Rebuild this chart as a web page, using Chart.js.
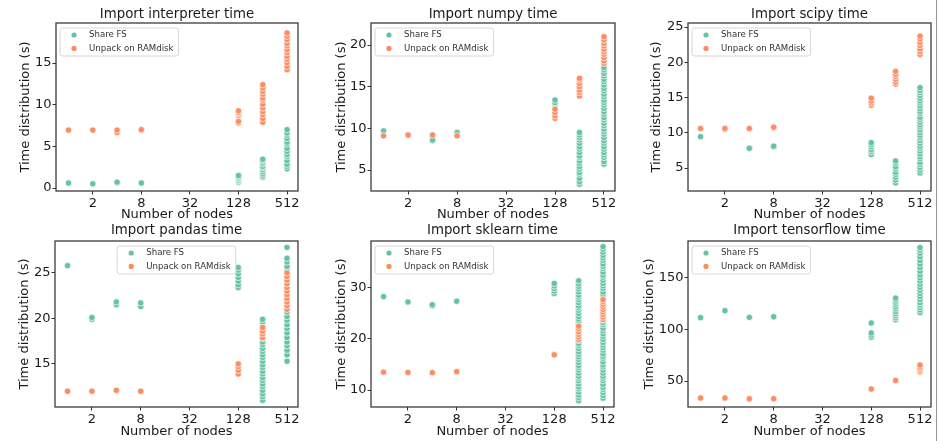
<!DOCTYPE html>
<html>
<head>
<meta charset="utf-8">
<title>Import time distribution</title>
<style>
  body { margin: 0; background: #fff; }
  #page { position: relative; width: 940px; height: 441px; overflow: hidden; background: #fff; }
  .panel { position: absolute; }
  .panel canvas { display: block; }
  #edge { position: absolute; left: 936px; top: 0; width: 1px; height: 441px; background: #9a9a9a; }
</style>
</head>
<body>
<div id="page">
  <div class="panel" style="left:0px;top:0px"><canvas id="c0" width="310" height="224"></canvas></div>
  <div class="panel" style="left:310px;top:0px"><canvas id="c1" width="310" height="224"></canvas></div>
  <div class="panel" style="left:620px;top:0px"><canvas id="c2" width="320" height="224"></canvas></div>
  <div class="panel" style="left:0px;top:220px"><canvas id="c3" width="310" height="221"></canvas></div>
  <div class="panel" style="left:310px;top:220px"><canvas id="c4" width="310" height="221"></canvas></div>
  <div class="panel" style="left:620px;top:220px"><canvas id="c5" width="320" height="221"></canvas></div>
  <div id="edge"></div>
</div>
<script src="https://cdn.jsdelivr.net/npm/chart.js@4.4.1/dist/chart.umd.min.js"></script>
<script>
// node counts on the x axis (log2), one list of timings per node count
var nodes = [1, 2, 4, 8, 128, 256, 512];
var xTicks = [2, 8, 32, 128, 512];
var seriesNames = ['Share FS', 'Unpack on RAMdisk'];

var interpreterShare = [[0.6], [0.5], [0.65, 0.7], [0.6],
  [0.7, 0.85, 0.95, 1.1, 1.2, 1.35, 1.5],
  [1.3, 1.45, 1.7, 1.95, 2.2, 2.45, 2.6, 2.9, 3.1, 3.3, 3.45],
  [2.3, 2.6, 2.85, 3.3, 3.75, 4.0, 4.4, 4.75, 5.25, 5.5, 5.95, 6.35, 6.6, 7.0]];
var interpreterRam = [[6.95], [6.95], [6.65, 6.95], [6.95, 7.0],
  [7.8, 8.0, 8.7, 8.9, 9.05, 9.25],
  [7.9, 8.35, 8.8, 9.15, 9.6, 10.05, 10.55, 10.8, 11.25, 11.6, 12.0, 12.4],
  [14.2, 14.6, 15.05, 15.45, 15.8, 16.25, 16.6, 17.05, 17.35, 17.8, 18.2, 18.6]];
var interpreterTicks = [0, 5, 10, 15];

var numpyShare = [[9.7], [9.2], [8.5, 8.6], [9.5],
  [12.6, 12.9, 13.1, 13.4],
  [3.3, 3.6, 4.0, 4.5, 4.7, 5.1, 5.4, 5.8, 6.1, 6.5, 6.7, 7.1, 7.5, 7.8, 8.2, 8.6, 8.9, 9.2, 9.5],
  [5.7, 6.0, 6.5, 6.8, 7.1, 7.5, 7.8, 8.2, 8.5, 8.9, 9.3, 9.6, 9.9, 10.3, 10.6, 11.0, 11.3,
   11.7, 12.0, 12.4, 12.8, 13.1, 13.4, 13.8, 14.1, 14.5, 14.8, 15.2, 15.6, 15.9, 16.3, 16.6, 17.0, 17.3]];
var numpyRam = [[9.1], [9.2], [9.2], [9.1],
  [11.2, 11.5, 11.9, 12.3],
  [13.9, 14.3, 14.6, 15.0, 15.4, 15.8, 16.0],
  [17.8, 18.1, 18.5, 18.9, 19.2, 19.5, 19.9, 20.2, 20.6, 21.0]];
var numpyTicks = [5, 10, 15, 20];

var scipyShare = [[9.45], [10.5], [7.8], [8.0, 8.1],
  [6.9, 7.3, 7.6, 8.0, 8.3, 8.6],
  [2.9, 3.3, 3.7, 4.1, 4.4, 4.9, 5.2, 5.7, 6.0],
  [4.3, 4.7, 5.1, 5.5, 5.8, 6.3, 6.6, 7.0, 7.4, 7.8, 8.1, 8.5, 8.9, 9.3, 9.6, 10.0, 10.4,
   10.8, 11.1, 11.5, 11.9, 12.2, 12.7, 13.0, 13.4, 13.8, 14.2, 14.5, 14.9, 15.3, 15.7, 16.0, 16.4]];
var scipyRam = [[10.6], [10.6], [10.6], [10.7, 10.8],
  [13.9, 14.2, 14.5, 14.9],
  [16.9, 17.2, 17.6, 18.0, 18.3, 18.7],
  [21.1, 21.5, 21.9, 22.4, 22.8, 23.3, 23.7]];
var scipyTicks = [5, 10, 15, 20, 25];

var pandasShare = [[25.8], [19.9, 20.1], [21.5, 21.8], [21.3, 21.7],
  [23.4, 23.7, 24.1, 24.5, 24.9, 25.3, 25.6],
  [11.0, 11.4, 11.7, 12.1, 12.5, 12.8, 13.2, 13.5, 13.9, 14.2, 14.6, 14.9, 15.3, 15.7, 16.0,
   16.4, 16.7, 17.1, 17.4, 17.8, 18.1, 18.5, 18.8, 19.2, 19.6, 19.9],
  [15.3, 16.0, 16.5, 17.0, 17.4, 17.9, 18.4, 18.9, 19.3, 19.8, 20.2, 20.7, 21.1, 21.6, 22.0,
   22.5, 23.0, 23.4, 23.9, 24.3, 24.8, 25.3, 25.7, 26.2, 26.6, 27.8]];
var pandasRam = [[12.0], [12.0], [12.1], [12.0],
  [13.9, 14.3, 14.7, 15.0],
  [17.9, 18.3, 18.6, 19.0],
  [21.0, 21.4, 21.8, 22.2, 22.6, 23.0, 23.4, 23.8, 24.2, 24.6, 25.0]];
var pandasTicks = [15, 20, 25];

var sklearnShare = [[28.3], [27.25], [26.5, 26.7], [27.4],
  [28.9, 29.4, 29.9, 30.4, 30.9],
  [7.9, 8.5, 9.0, 9.6, 10.2, 10.6, 11.2, 11.8, 12.3, 12.7, 13.3, 13.9, 14.4, 14.8, 15.4, 16.0,
   16.5, 17.0, 17.5, 18.1, 18.7, 19.1, 19.7, 20.2, 20.8, 21.4, 21.8, 22.3, 22.9, 23.5, 23.9,
   24.4, 25.0, 25.6, 26.1, 26.5, 27.1, 27.7, 28.2, 28.6, 29.2, 29.8, 30.3, 30.8, 31.4],
  [8.4, 8.9, 9.5, 10.1, 10.5, 11.1, 11.8, 12.3, 12.7, 13.3, 13.9, 14.5, 14.9, 15.5, 16.2, 16.6,
   17.1, 17.8, 18.3, 18.8, 19.3, 19.9, 20.5, 21.0, 21.6, 22.1, 22.8, 23.2, 23.7, 24.4, 24.9,
   25.4, 26.0, 26.6, 27.0, 27.6, 28.3, 28.7, 29.2, 29.9, 30.4, 30.9, 31.5, 32.1, 32.5, 33.1,
   33.8, 34.2, 34.7, 35.4, 35.9, 36.4, 37.0, 37.6, 38.1]];
var sklearnRam = [[13.5], [13.45], [13.4], [13.6],
  [16.9],
  [19.9, 20.4, 20.9, 21.4, 22.0, 22.5],
  [23.8, 24.3, 24.8, 25.3, 25.8, 26.3, 26.8, 27.3, 27.7]];
var sklearnTicks = [10, 20, 30];

var tensorflowShare = [[111.5], [118.3], [111.8], [112.4],
  [92.4, 94.5, 96.6, 106.3],
  [109.5, 111.5, 113.5, 115.5, 117.5, 120, 122, 124.5, 126.5, 128.5, 130.5],
  [116.5, 119, 121.5, 124, 126, 129, 132, 135, 138, 141, 144, 147, 150, 153, 156.5, 160,
   163.5, 167, 170.5, 174, 177, 179.5]];
var tensorflowRam = [[33.5], [33.5], [32.8], [32.8],
  [42.2],
  [50.6],
  [58.8, 60.2, 61.8, 63.5, 65.5]];
var tensorflowTicks = [50, 100, 150];

var titles = ['Import interpreter time', 'Import numpy time', 'Import scipy time',
  'Import pandas time', 'Import sklearn time', 'Import tensorflow time'];

var TEAL = '#66c2a5';
var ORANGE = '#fc8d62';
var INK = '#1a1a1a';
var FONT = '"DejaVu Sans", "Liberation Sans", sans-serif';

// canvas-local layout of each panel: plot box [l, t, r, b], axis limits, label spots
var panels = [
  { share: interpreterShare, ram: interpreterRam, yTicks: interpreterTicks, yMin: -0.36, yMax: 19.8,
    area: [56, 23, 298, 191], titleY: 14.5, yTitleX: 26, xTitleY: 215, legend: 'left' },
  { share: numpyShare, ram: numpyRam, yTicks: numpyTicks, yMin: 2.48, yMax: 22.65,
    area: [61, 23, 305, 191], titleY: 14.5, yTitleX: 32, xTitleY: 215, legend: 'left' },
  { share: scipyShare, ram: scipyRam, yTicks: scipyTicks, yMin: 1.74, yMax: 25.57,
    area: [68, 23, 311, 191], titleY: 14.5, yTitleX: 37, xTitleY: 215, legend: 'left' },
  { share: pandasShare, ram: pandasRam, yTicks: pandasTicks, yMin: 10.27, yMax: 28.5,
    area: [55, 21, 298, 187], titleY: 10.5, yTitleX: 25, xTitleY: 212, legend: 'center' },
  { share: sklearnShare, ram: sklearnRam, yTicks: sklearnTicks, yMin: 6.67, yMax: 39.2,
    area: [61, 21, 304, 187], titleY: 10.5, yTitleX: 32, xTitleY: 212, legend: 'left' },
  { share: tensorflowShare, ram: tensorflowRam, yTicks: tensorflowTicks, yMin: 24.8, yMax: 185.9,
    area: [68, 21, 311, 187], titleY: 10.5, yTitleX: 30, xTitleY: 212, legend: 'left' }
];

function toPoints(cols) {
  var pts = [];
  cols.forEach(function (vals, i) {
    vals.forEach(function (v) { pts.push({ x: nodes[i], y: v }); });
  });
  return pts;
}

// frame, panel title and legend box drawn over the points
var panelDecor = {
  id: 'panelDecor',
  afterDatasetsDraw: function (chart, args, opts) {
    var ctx = chart.ctx, a = chart.chartArea;
    ctx.save();
    ctx.strokeStyle = '#333';
    ctx.lineWidth = 1.25;
    ctx.strokeRect(a.left, a.top, a.right - a.left, a.bottom - a.top);

    ctx.fillStyle = INK;
    ctx.font = '13.3px ' + FONT;
    ctx.textAlign = 'center';
    ctx.textBaseline = 'middle';
    ctx.fillText(opts.title, (a.left + a.right) / 2, opts.titleY);

    ctx.font = '8.6px ' + FONT;
    var sets = chart.data.datasets;
    var tw = 0;
    sets.forEach(function (d) { tw = Math.max(tw, ctx.measureText(d.label).width); });
    var w = 30 + tw + 4, h = 28;
    var x = opts.legend === 'center' ? (a.left + a.right - w) / 2 : a.left + 4;
    var y = a.top + 5;
    var r = 2.5;
    ctx.beginPath();
    ctx.moveTo(x + r, y);
    ctx.lineTo(x + w - r, y);
    ctx.arcTo(x + w, y, x + w, y + r, r);
    ctx.lineTo(x + w, y + h - r);
    ctx.arcTo(x + w, y + h, x + w - r, y + h, r);
    ctx.lineTo(x + r, y + h);
    ctx.arcTo(x, y + h, x, y + h - r, r);
    ctx.lineTo(x, y + r);
    ctx.arcTo(x, y, x + r, y, r);
    ctx.closePath();
    ctx.fillStyle = 'rgba(255,255,255,0.8)';
    ctx.fill();
    ctx.strokeStyle = '#d6d6d6';
    ctx.lineWidth = 1;
    ctx.stroke();

    ctx.textAlign = 'left';
    sets.forEach(function (d, i) {
      var cy = y + 7 + i * 13.4;
      ctx.beginPath();
      ctx.arc(x + 14, cy, 2.6, 0, Math.PI * 2);
      ctx.fillStyle = d.backgroundColor;
      ctx.fill();
      ctx.fillStyle = '#333';
      ctx.fillText(d.label, x + 29, cy);
    });
    ctx.restore();
  }
};

function makePanel(i) {
  var p = panels[i];
  var canvas = document.getElementById('c' + i);
  var W = canvas.width, H = canvas.height;
  var tickFont = { family: FONT, size: 13 };
  var labelFont = { family: FONT, size: 13, lineHeight: 1 };

  new Chart(canvas, {
    type: 'scatter',
    data: {
      datasets: [
        { label: seriesNames[0], data: toPoints(p.share), backgroundColor: TEAL,
          borderColor: '#fff', borderWidth: 0.7, pointRadius: 3.2, order: 1 },
        { label: seriesNames[1], data: toPoints(p.ram), backgroundColor: ORANGE,
          borderColor: '#fff', borderWidth: 0.7, pointRadius: 3.2, order: 0 }
      ]
    },
    options: {
      responsive: false,
      animation: false,
      events: [],
      layout: { padding: { left: 0, top: p.area[1], right: W - p.area[2], bottom: 0 } },
      plugins: {
        legend: { display: false },
        tooltip: { enabled: false },
        panelDecor: { title: titles[i], titleY: p.titleY, legend: p.legend }
      },
      scales: {
        x: {
          type: 'logarithmic',
          min: Math.pow(2, -0.45),
          max: Math.pow(2, 9.45),
          afterBuildTicks: function (s) { s.ticks = xTicks.map(function (v) { return { value: v }; }); },
          afterFit: function (s) { s.height = H - p.area[3]; },
          grid: { display: true, drawOnChartArea: false, drawTicks: true, tickLength: 3.5, color: '#333' },
          border: { display: false },
          ticks: { autoSkip: false, maxRotation: 0, padding: 1, color: INK, font: tickFont,
                   callback: function (v) { return String(v); } },
          title: { display: true, text: 'Number of nodes', color: INK, font: labelFont,
                   padding: { top: 0, bottom: H - p.xTitleY - 6.5 } }
        },
        y: {
          min: p.yMin,
          max: p.yMax,
          afterBuildTicks: function (s) { s.ticks = p.yTicks.map(function (v) { return { value: v }; }); },
          afterFit: function (s) { s.width = p.area[0]; },
          grid: { display: true, drawOnChartArea: false, drawTicks: true, tickLength: 3.5, color: '#333' },
          border: { display: false },
          ticks: { padding: 1, color: INK, font: tickFont },
          title: { display: true, text: 'Time distribution (s)', color: INK, font: labelFont,
                   padding: { top: p.yTitleX - 6.5, bottom: 0 } }
        }
      }
    },
    plugins: [panelDecor]
  });
}

for (var i = 0; i < panels.length; i++) makePanel(i);
</script>
</body>
</html>
